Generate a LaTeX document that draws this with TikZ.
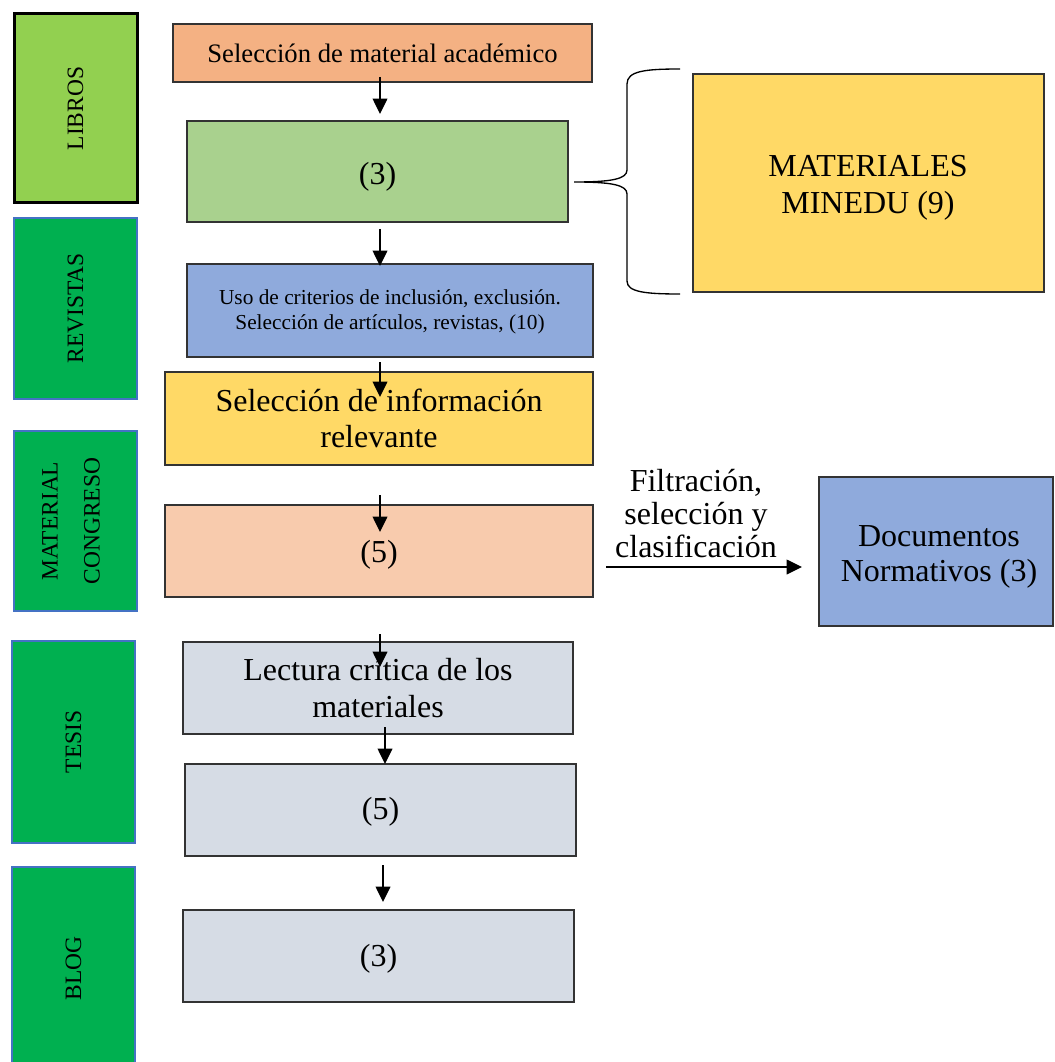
\documentclass[tikz,border=0pt]{standalone}
\usepackage{fontspec}
\setmainfont{Liberation Serif}
\usetikzlibrary{arrows.meta}
\definecolor{libgreen}{HTML}{92D050}
\definecolor{catgreen}{HTML}{00B050}
\definecolor{catblue}{HTML}{4472C4}
\definecolor{selorange}{HTML}{F4B183}
\definecolor{boxgreen}{HTML}{A9D18E}
\definecolor{boxblue}{HTML}{8FAADC}
\definecolor{boxyellow}{HTML}{FFD966}
\definecolor{boxsalmon}{HTML}{F8CBAD}
\definecolor{boxgray}{HTML}{D6DCE5}
\begin{document}
\begin{tikzpicture}[x=0.75pt,y=-0.75pt,
  box/.style={draw=black!80, line width=0.9pt, align=center, inner sep=0pt, text=black},
  cat/.style={draw=catblue, line width=1.8pt, fill=catgreen, rotate=90, align=center, inner sep=0pt,
              font=\fontsize{17.6}{31.5}\selectfont},
  flow/.style={-{Triangle[width=11pt,length=11.5pt]}, line width=1.1pt},
  big/.style={font=\fontsize{24}{27.75}\selectfont},
  txt/.style={align=center, inner sep=0pt},
]
\useasboundingbox (0,0) rectangle (1054,1062);
\clip (0,0) rectangle (1054,1062);

% left category column
\node[cat, draw=black, line width=2.25pt, fill=libgreen,
      minimum width={189*0.75pt}, minimum height={123*0.75pt}] (libros) at (75.5,108.5) {LIBROS};
\node[cat, minimum width={181*0.75pt}, minimum height={123*0.75pt}] (revistas) at (75.5,308.5) {REVISTAS};
\node[cat, minimum width={180*0.75pt}, minimum height={123*0.75pt}] (congreso) at (75.5,521) {};
\node[txt, rotate=90, font=\fontsize{17.6}{31.5}\selectfont] (congresoT) at (71,521) {MATERIAL\\CONGRESO};
\node[cat, minimum width={202*0.75pt}, minimum height={123*0.75pt}] (tesis) at (73.5,742) {TESIS};
\node[cat, minimum width={203*0.75pt}, minimum height={123*0.75pt}] (blog) at (73.5,968.5) {BLOG};

% central flow
\node[box, fill=selorange, minimum width={419*0.75pt}, minimum height={58*0.75pt},
      text height=15pt, text depth=0pt,
      font=\fontsize{20}{23}\selectfont] (sel) at (382.5,53) {Selección de material académico};
\node[box, fill=boxgreen, minimum width={381*0.75pt}, minimum height={101*0.75pt}, big,
      text height=19.2pt, text depth=0pt] (g3) at (377.5,171.5) {(3)};
\node[box, fill=boxblue, minimum width={406*0.75pt}, minimum height={93*0.75pt}] (crit) at (390,310.5) {};
\node[txt, font=\fontsize{16}{19}\selectfont] (critT) at (390,312)
      {Uso de criterios de inclusión, exclusión.\\Selección de artículos, revistas, (10)};
\node[box, fill=boxyellow, minimum width={428*0.75pt}, minimum height={93*0.75pt},
      font=\fontsize{24}{27}\selectfont] (info) at (379,418.5)
      {Selección de información\\relevante};
\node[box, fill=boxsalmon, minimum width={428*0.75pt}, minimum height={92*0.75pt}, big,
      text height=17pt, text depth=0pt] (s5) at (379,551) {(5)};
\node[box, fill=boxgray, minimum width={390*0.75pt}, minimum height={92*0.75pt}, big] (lect) at (378,688)
      {Lectura crítica de los\\materiales};
\node[box, fill=boxgray, minimum width={391*0.75pt}, minimum height={92*0.75pt}, big,
      text height=14pt, text depth=0pt] (g5) at (380.5,810) {(5)};
\node[box, fill=boxgray, minimum width={391*0.75pt}, minimum height={92*0.75pt}, big,
      text height=15pt, text depth=0pt] (g3b) at (378.5,956) {(3)};

% right side
\node[box, fill=boxyellow, minimum width={351*0.75pt}, minimum height={218*0.75pt}] (minedu) at (868.5,183) {};
\node[txt, big] (mineduT) at (868,187.5) {MATERIALES\\MINEDU (9)};
\node[box, fill=boxblue, minimum width={234*0.75pt}, minimum height={149*0.75pt}] (docs) at (936,551.5) {};
\node[txt, font=\fontsize{24}{26.25}\selectfont] (docsT) at (939,557) {Documentos\\Normativos (3)};

% vertical arrows
\coordinate (a1s) at (380,77);  \coordinate (a1e) at (380,114);
\coordinate (a2s) at (380,229); \coordinate (a2e) at (380,266);
\coordinate (a3s) at (380,362); \coordinate (a3e) at (380,397);
\coordinate (a4s) at (380,495); \coordinate (a4e) at (380,532);
\coordinate (a5s) at (380,634); \coordinate (a5e) at (380,667);
\coordinate (a6s) at (385,727); \coordinate (a6e) at (385,764);
\coordinate (a7s) at (383,865); \coordinate (a7e) at (383,902);
\draw[flow] (a1s) -- (a1e);
\draw[flow] (a2s) -- (a2e);
\draw[flow] (a3s) -- (a3e);
\draw[flow] (a4s) -- (a4e);
\draw[flow] (a5s) -- (a5e);
\draw[flow] (a6s) -- (a6e);
\draw[flow] (a7s) -- (a7e);

% horizontal arrow to documents
\coordinate (hs) at (606,567);
\coordinate (he) at (802,567);
\draw[flow] (hs) -- (he);
\node[txt, font=\fontsize{24}{24.75}\selectfont] (flab) at (696,514)
      {Filtración,\\selección y\\clasificación};

% brace
\coordinate (bt) at (680,69);
\coordinate (bb) at (680,294);
\coordinate (btip) at (574,182);
\draw[line width=1pt] (bt) .. controls (645,69) and (627,71) .. (627,84) -- (627,170)
  .. controls (627,179) and (612,182) .. (btip)
  .. controls (612,182) and (627,185) .. (627,194) -- (627,281)
  .. controls (627,292) and (645,294) .. (bb);
\end{tikzpicture}
\end{document}
